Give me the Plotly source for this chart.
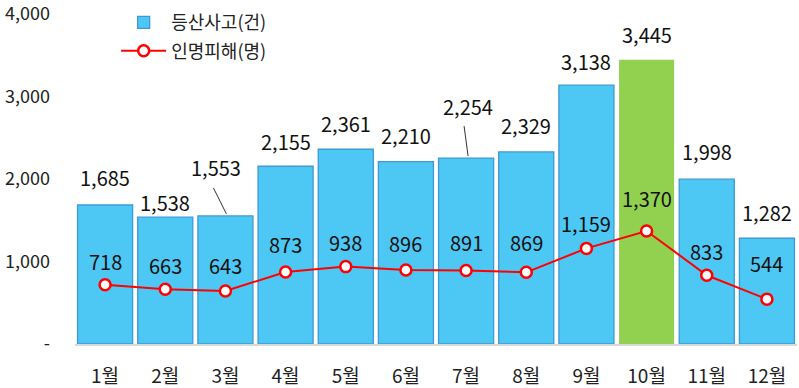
import plotly.graph_objects as go

months = ["1월", "2월", "3월", "4월", "5월", "6월", "7월", "8월", "9월", "10월", "11월", "12월"]
accidents = [1685, 1538, 1553, 2155, 2361, 2210, 2254, 2329, 3138, 3445, 1998, 1282]
casualties = [718, 663, 643, 873, 938, 896, 891, 869, 1159, 1370, 833, 544]
y_ticks = [0, 1000, 2000, 3000, 4000]
y_tick_text = ["-", "1,000", "2,000", "3,000", "4,000"]

# label styling offsets (pixels above the mark)
bar_label_shift = [26, 13, 46, 23, 24, 24, 50, 24, 22, 23, 26, 24]
bar_label_dx = [0, 0, -9, 0, 0, 0, 2, 0, 0, 0, 0, 0]
line_label_shift = [23, 24, 25, 27, 24, 27, 28, 30, 25, 32, 24, 36]

FONT = "Noto Sans CJK KR"
blue = "#4DC7F3"
green = "#92D050"
bar_colors = [green if m == "10월" else blue for m in months]
bar_lines = ["rgba(0,0,0,0)" if m == "10월" else "#3D9AD6" for m in months]

fig = go.Figure()
fig.add_trace(go.Bar(
    x=months, y=accidents, name="등산사고(건)", legendgroup="a",
    marker=dict(color=bar_colors, line=dict(color=bar_lines, width=1.3)),
))
fig.add_trace(go.Scatter(
    x=months, y=casualties, name="인명피해(명)", mode="lines+markers", legendgroup="b",
    line=dict(color="#FF0000", width=2),
    marker=dict(size=11, color="white", line=dict(color="#FF0000", width=2.5)),
))

ann = []
for i, (m, v) in enumerate(zip(months, accidents)):
    ann.append(dict(x=m, y=v, text=f"{v:,}", showarrow=False, yshift=bar_label_shift[i] + 2,
                    xshift=bar_label_dx[i], yanchor="middle",
                    font=dict(family=FONT, size=20, color="#111111")))
for i, (m, v) in enumerate(zip(months, casualties)):
    ann.append(dict(x=m, y=v, text=f"{v:,}", showarrow=False, yshift=line_label_shift[i],
                    yanchor="middle", font=dict(family=FONT, size=20, color="#111111")))

# leader lines for moved labels
leaders = {2: (-12, 28, 1, 2), 6: (-2, 32, 2, 2)}
shapes = []
for idx, (x0p, y0p, x1p, y1p) in leaders.items():
    shapes.append(dict(type="line", xref="x", yref="y", xsizemode="pixel", ysizemode="pixel",
                       xanchor=idx, yanchor=accidents[idx],
                       x0=x0p, x1=x1p, y0=y0p, y1=y1p,
                       line=dict(color="#333333", width=1)))

fig.update_layout(
    width=799, height=388,
    margin=dict(l=75, r=2, t=14, b=44, autoexpand=False),
    plot_bgcolor="white", paper_bgcolor="white",
    bargap=0.085,
    font=dict(family=FONT, size=16, color="#222222"),
    showlegend=True,
    legend=dict(x=0.057, y=1.03, xanchor="left", yanchor="top", traceorder="grouped",
                bgcolor="rgba(0,0,0,0)", font=dict(family=FONT, size=18, color="#222222"),
                itemwidth=45, tracegroupgap=2),
    annotations=ann,
    shapes=shapes,
)
fig.update_xaxes(range=[-0.5, 11.5], showline=True, linecolor="#D9D9D9", linewidth=2,
                 ticks="", showgrid=False, ticklabelstandoff=14, automargin=False,
                 tickfont=dict(family=FONT, size=19, color="#222222"))
fig.update_yaxes(range=[0, 4000.5], tickvals=y_ticks, ticktext=y_tick_text, showgrid=False,
                 zeroline=False, showline=False, ticks="", ticklabelstandoff=24, automargin=False,
                 ticklabeloverflow="allow",
                 tickfont=dict(family=FONT, size=18, color="#222222"))

fig.write_html("out.html", config={"displayModeBar": False},
               post_script="document.body.style.margin='0';document.body.style.overflow='hidden';")
